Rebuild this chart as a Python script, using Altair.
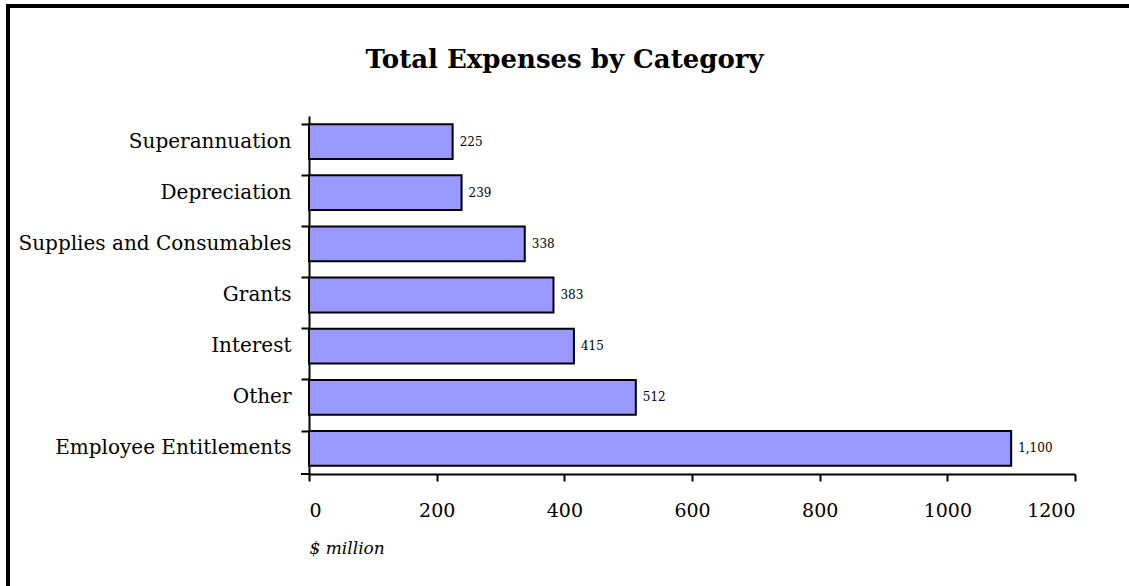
import altair as alt
import pandas as pd

categories = ["Superannuation", "Depreciation", "Supplies and Consumables",
              "Grants", "Interest", "Other", "Employee Entitlements"]
values = [225, 239, 338, 383, 415, 512, 1100]
x_ticks = [0, 200, 400, 600, 800, 1000, 1200]

FONT = "DejaVu Serif"
W, H = 766, 358
PL, PT = 309, 116

df = pd.DataFrame({"category": categories, "value": values})

base = alt.Chart(df)

bars = base.mark_bar(color="#9999FF", stroke="black", strokeWidth=2).encode(
    y=alt.Y("category:N", sort=categories,
            scale=alt.Scale(paddingInner=0.32, paddingOuter=0.16),
            axis=alt.Axis(title=None, bandPosition=0, labelFont=FONT, labelFontSize=20,
                          labelColor="black", labelPadding=10, labelLimit=0, tickSize=8,
                          tickWidth=2, domainWidth=2, tickColor="black",
                          domainColor="black", labelAlign="right")),
    x=alt.X("value:Q",
            scale=alt.Scale(domain=[0, 1200], nice=False),
            axis=alt.Axis(values=x_ticks, format="d", grid=False, title="$ million",
                          labelFont=FONT, labelFontSize=19, labelColor="black",
                          labelPadding=20, tickSize=7, tickWidth=2, domainWidth=2,
                          tickColor="black", domainColor="black",
                          titleFont=FONT, titleFontSize=17, titleFontStyle="italic",
                          titleFontWeight="normal", titleColor="black",
                          titleAnchor="start", titleAlign="left", titleX=0,
                          titleY=74, titleBaseline="middle")),
)

labels = base.mark_text(align="left", baseline="middle", dx=7, font=FONT,
                        fontSize=12, color="black").encode(
    y=alt.Y("category:N", sort=categories),
    x=alt.X("value:Q"),
    text=alt.Text("value:Q", format=","),
)

one = alt.Chart(pd.DataFrame({"a": [0]}))
bottom_tick = one.mark_rule(color="black", strokeWidth=2).encode(
    x=alt.value(-8), x2=alt.value(0), y=alt.value(H))
frame = one.mark_rect(fill=None, stroke="black", strokeWidth=4).encode(
    x=alt.value(8 - PL), y=alt.value(6 - PT),
    x2=alt.value(1129 + 30 - PL), y2=alt.value(586 + 30 - PT))

chart = alt.layer(bars, labels, bottom_tick, frame).properties(
    width=W, height=H,
    view=alt.ViewBackground(strokeWidth=0, strokeOpacity=0),
    autosize=alt.AutoSizeParams(type="none"),
    padding={"left": PL, "top": PT, "right": 1129 - PL - W, "bottom": 586 - PT - H},
    title=alt.TitleParams("Total Expenses by Category", font=FONT, fontSize=26,
                          fontWeight="bold", color="black", anchor="middle",
                          frame="group", dx=564.5 - (PL + W / 2), offset=-90,
                          baseline="alphabetic"),
).configure_view(strokeWidth=0, strokeOpacity=0).configure(background="white")

chart.save("out.html", embed_options={"renderer": "svg", "actions": False})
